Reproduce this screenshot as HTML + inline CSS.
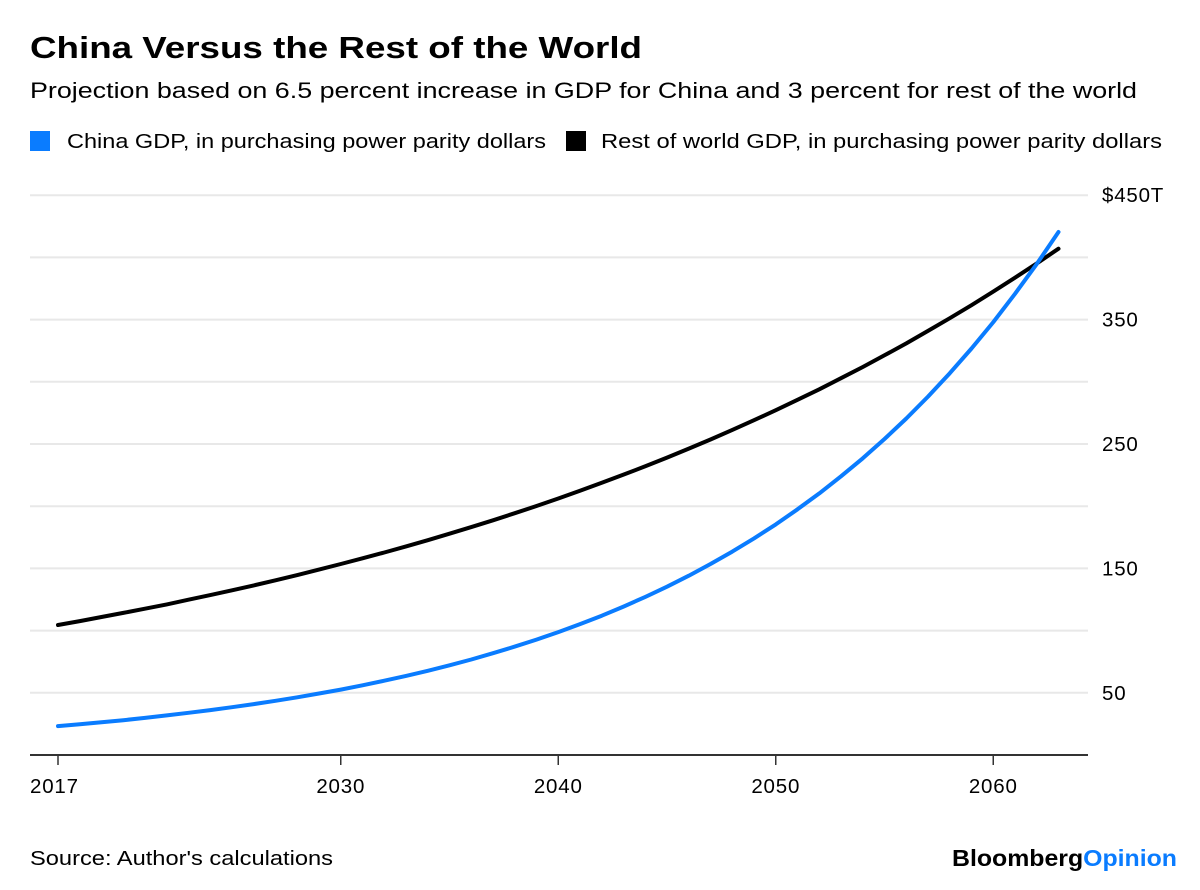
<!DOCTYPE html>
<html><head><meta charset="utf-8"><style>
body{margin:0;background:#fff;width:1200px;height:885px;overflow:hidden;font-family:"Liberation Sans",sans-serif;color:#000}
</style></head><body>
<svg width="1200" height="885" xmlns="http://www.w3.org/2000/svg">
<text x="30" y="58" font-size="31" font-weight="bold" textLength="612" lengthAdjust="spacingAndGlyphs">China Versus the Rest of the World</text>
<text x="30" y="98" font-size="22" textLength="1107" lengthAdjust="spacingAndGlyphs">Projection based on 6.5 percent increase in GDP for China and 3 percent for rest of the world</text>
<g>
<rect x="30" y="131" width="20" height="20" fill="#0a7cff"/>
<text x="67" y="148" font-size="20.5" textLength="479" lengthAdjust="spacingAndGlyphs">China GDP, in purchasing power parity dollars</text>
<rect x="566" y="131" width="20" height="20" fill="#000"/>
<text x="601" y="148" font-size="20.5" textLength="561" lengthAdjust="spacingAndGlyphs">Rest of world GDP, in purchasing power parity dollars</text>
</g>
<g id="grid"></g><g id="ylabels"></g><g id="xaxis"></g><g id="series"></g>
<text x="30" y="865" font-size="20" textLength="303" lengthAdjust="spacingAndGlyphs">Source: Author's calculations</text>
<text x="952" y="866" font-size="23" font-weight="bold" textLength="225" lengthAdjust="spacingAndGlyphs">Bloomberg<tspan fill="#0a7cff">Opinion</tspan></text>
</svg>
<script>
const startYear = 2017;
const china = [23.2,24.7,26.3,28.0,29.8,31.8,33.9,36.1,38.4,40.9,43.6,46.4,49.4,52.6,56.0,59.7,63.6,67.7,72.1,76.8,81.8,87.1,92.8,98.8,105.2,112.0,119.3,127.1,135.3,144.1,153.5,163.5,174.1,185.4,197.5,210.3,224.0,238.5,254.0,270.5,288.1,306.9,326.8,348.0,370.7,394.8,420.4];
const restOfWorld = [104.5,107.6,110.9,114.2,117.6,121.1,124.8,128.5,132.4,136.3,140.4,144.6,149.0,153.5,158.1,162.8,167.7,172.7,177.9,183.2,188.7,194.4,200.2,206.2,212.4,218.8,225.4,232.1,239.1,246.3,253.6,261.3,269.1,277.2,285.5,294.0,302.9,311.9,321.3,330.9,340.9,351.1,361.6,372.5,383.7,395.2,407.0];
const yTicks = [50,100,150,200,250,300,350,400,450];
const yLabels = ["50","","150","","250","","350","","$450T"];
const xTicks = [2017,2030,2040,2050,2060];
const NS="http://www.w3.org/2000/svg";
const xs = yr => 58 + (yr-2017)*21.75;
const ys = v => 755 - v*1.244;
function mk(t,a,p){const e=document.createElementNS(NS,t);for(const k in a)e.setAttribute(k,a[k]);p.appendChild(e);return e;}
const grid=document.getElementById('grid'), yl=document.getElementById('ylabels'), xa=document.getElementById('xaxis'), se=document.getElementById('series');
yTicks.forEach((v,i)=>{
  const l=mk('line',{x1:30,x2:1088,y1:ys(v),y2:ys(v),stroke:'#e8e8e8','stroke-width':2},grid);
  
  
  if(yLabels[i]){const t=mk('text',{x:1102,y:ys(v)+7,'font-size':20.5,'letter-spacing':'0.8'},yl);t.textContent=yLabels[i];
  
  }
});
const ax=mk('line',{x1:30,x2:1088,y1:755,y2:755,stroke:'#333','stroke-width':2},xa);


xTicks.forEach(yr=>{
  const tk=mk('line',{x1:xs(yr),x2:xs(yr),y1:755,y2:765,stroke:'#333','stroke-width':1.5},xa);
  
  
  const t=mk('text',{x:yr===2017?30:xs(yr),y:793,'font-size':20.5,'letter-spacing':'0.8','text-anchor':yr===2017?'start':'middle'},xa);t.textContent=yr;
  
  
});
function line(arr,color,name){
  const d=arr.map((v,i)=>(i?'L':'M')+xs(startYear+i).toFixed(1)+','+ys(v).toFixed(1)).join('');
  const p=mk('path',{d:d,fill:'none',stroke:color,'stroke-width':4,'stroke-linejoin':'round','stroke-linecap':'round'},se);
  
  
}
line(restOfWorld,'#000','rest-of-world-line');
line(china,'#0a7cff','china-line');
</script>
</body></html>
